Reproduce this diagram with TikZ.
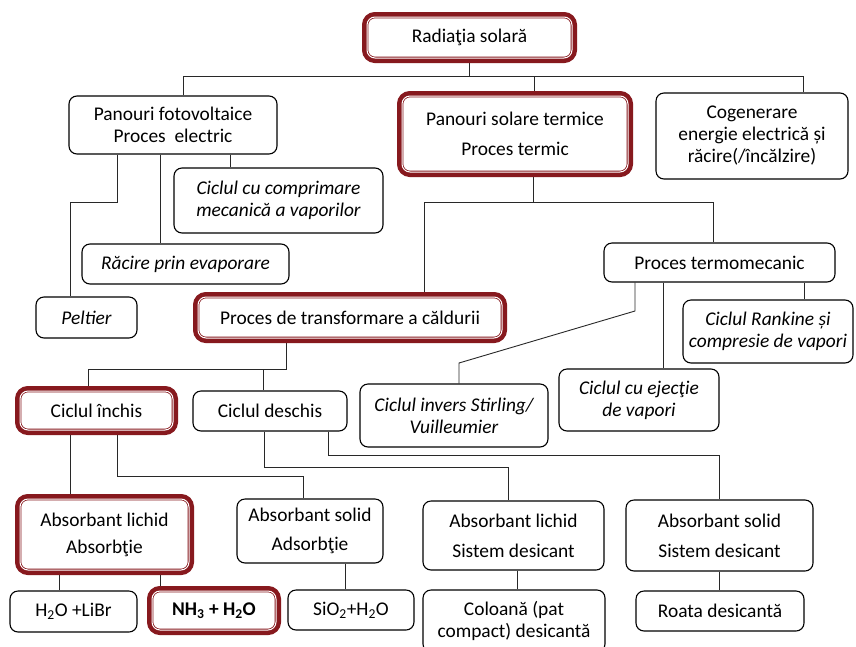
\documentclass[tikz,border=0pt]{standalone}
\usepackage{fontspec}
\setmainfont{Carlito}
\usetikzlibrary{backgrounds}
\definecolor{dred}{RGB}{135,25,30}
\definecolor{lnk}{RGB}{40,40,40}
\begin{document}
\begin{tikzpicture}[x=1pt,y=-1pt,
  font=\fontsize{19.4}{22}\selectfont,
  box/.style={draw=black, line width=1.1pt, rounded corners=8pt, fill=white,
    inner sep=0pt, align=center},
  redbox/.style={box, draw=dred, line width=0.8pt, double=white, double distance=1pt,
    preaction={draw=dred, line width=10pt, rounded corners=8pt}},
  it/.style={font=\fontsize{19.4}{22}\selectfont\itshape},
  wide/.style={font=\fontsize{19.4}{#1}\selectfont},
  link/.style={draw=lnk, line width=0.9pt}]
\useasboundingbox (0,0) rectangle (856,646);
% ---- nodes ----
\node[redbox, minimum width=205, minimum height=41] (rad) at (469.5,37.5) {Radiaţia solară};
\node[box, minimum width=208, minimum height=58] (pv) at (173,125) {Panouri fotovoltaice\\Proces\ \ electric};
\node[redbox, minimum width=226, minimum height=76, wide=30] (pst) at (515,134) {Panouri solare termice\\Proces termic};
\node[box, minimum width=192, minimum height=86] (cog) at (752,136) {Cogenerare\\energie electrică și\\răcire(/încălzire)};
\node[box, it, minimum width=209, minimum height=65] (ccm) at (278.5,200.5) {Ciclul cu comprimare\\mecanică a vaporilor};
\node[box, it, minimum width=207, minimum height=40] (rac) at (185.5,264) {Răcire prin evaporare};
\node[box, it, minimum width=101, minimum height=41] (pel) at (86.5,317.5) {Peltier};
\node[box, minimum width=231, minimum height=39] (ptm) at (719.5,262.5) {Proces termomecanic};
\node[redbox, minimum width=304, minimum height=41] (pdt) at (350,317.5) {Proces de transformare a căldurii};
\node[box, it, minimum width=170, minimum height=63] (rank) at (768,331.5) {Ciclul Rankine și\\compresie de vapori};
\node[box, it, minimum width=188, minimum height=63] (stir) at (454,415.5) {Ciclul invers Stirling/\\Vuilleumier};
\node[box, it, minimum width=160, minimum height=62] (ej) at (639,400) {Ciclul cu ejecţie\\de vapori};
\node[redbox, minimum width=153, minimum height=39] (ci) at (96.5,410.5) {Ciclul închis};
\node[box, minimum width=154, minimum height=40] (cd) at (270,411) {Ciclul deschis};
\node[redbox, minimum width=169, minimum height=71, wide=27] (alA) at (104.5,534.5) {Absorbant lichid\\Absorbţie};
\node[box, minimum width=146, minimum height=64, wide=29] (as) at (310,531) {Absorbant solid\\Adsorbţie};
\node[box, minimum width=181, minimum height=69, wide=30] (alsd) at (513.5,535.5) {Absorbant lichid\\Sistem desicant};
\node[box, minimum width=187, minimum height=71, wide=30] (assd) at (719.5,535.5) {Absorbant solid\\Sistem desicant};
\node[box, minimum width=127, minimum height=41] (h2o) at (73.5,611.5) {H\textsubscript{2}O +LiBr};
\node[redbox, minimum width=124, minimum height=39, font=\fontsize{19.4}{22}\selectfont\bfseries] (nh3) at (214,610.5) {NH\textsubscript{3} + H\textsubscript{2}O};
\node[box, minimum width=126, minimum height=40] (sio) at (351,610) {SiO\textsubscript{2}+H\textsubscript{2}O};
\node[box, minimum width=182, minimum height=62] (col) at (514,621) {Coloană (pat\\compact) desicantă};
\node[box, minimum width=168, minimum height=40] (roata) at (720,611) {Roata desicantă};
% ---- connectors ----
\begin{pgfonlayer}{background}
\fill[white] (0,0) rectangle (856,646);
\coordinate (b1) at (183,76); \coordinate (b2) at (803,76); \coordinate (b3) at (534,76);
\draw[link] (rad.south) -- (rad.south |- b1);
\draw[link] (b1 |- pv.north) -- (b1) -- (b2) -- (b2 |- cog.north);
\draw[link] (b3) -- (b3 |- pst.north);
\coordinate (p1) at (117,202); \coordinate (p2) at (70,202);
\coordinate (p3) at (160,0); \coordinate (p4) at (230,0);
\draw[link] (p1 |- pv.south) -- (p1) -- (p2) -- (p2 |- pel.north);
\draw[link] (p3 |- pv.south) -- (p3 |- rac.north);
\draw[link] (p4 |- pv.south) -- (p4 |- ccm.north);
\coordinate (q0) at (533,202); \coordinate (q1) at (424,202); \coordinate (q2) at (713,202);
\draw[link] (q0 |- pst.south) -- (q0);
\draw[link] (q1 |- pdt.north) -- (q1) -- (q2) -- (q2 |- ptm.north);
\coordinate (r1) at (635,311); \coordinate (r2) at (459,363);
\coordinate (r3) at (663,0); \coordinate (r4) at (804,0);
\draw[link] (r1 |- ptm.south) -- (r1) -- (r2) -- (r2 |- stir.north);
\draw[link] (r3 |- ptm.south) -- (r3 |- ej.north);
\draw[link] (r4 |- ptm.south) -- (r4 |- rank.north);
\coordinate (s0) at (286,369); \coordinate (s1) at (88,369); \coordinate (s2) at (263,369);
\draw[link] (s0 |- pdt.south) -- (s0) -- (s1) -- (s1 |- ci.north);
\draw[link] (s2) -- (s2 |- cd.north);
\coordinate (t1) at (70,0); \coordinate (t2) at (117,476); \coordinate (t3) at (303,476);
\draw[link] (t1 |- ci.south) -- (t1 |- alA.north);
\draw[link] (t2 |- ci.south) -- (t2) -- (t3) -- (t3 |- as.north);
\coordinate (u1) at (264,467); \coordinate (u2) at (508,467);
\coordinate (u3) at (328,455); \coordinate (u4) at (719,455);
\draw[link] (u1 |- cd.south) -- (u1) -- (u2) -- (u2 |- alsd.north);
\draw[link] (u3 |- cd.south) -- (u3) -- (u4) -- (u4 |- assd.north);
\coordinate (v1) at (59,0); \coordinate (v2) at (160,0); \coordinate (v3) at (345,0);
\coordinate (v4) at (517,0); \coordinate (v5) at (719,0);
\draw[link] (v1 |- alA.south) -- (v1 |- h2o.north);
\draw[link] (v2 |- alA.south) -- (v2 |- nh3.north);
\draw[link] (v3 |- as.south) -- (v3 |- sio.north);
\draw[link] (v4 |- alsd.south) -- (v4 |- col.north);
\draw[link] (v5 |- assd.south) -- (v5 |- roata.north);
\end{pgfonlayer}
\end{tikzpicture}
\end{document}
